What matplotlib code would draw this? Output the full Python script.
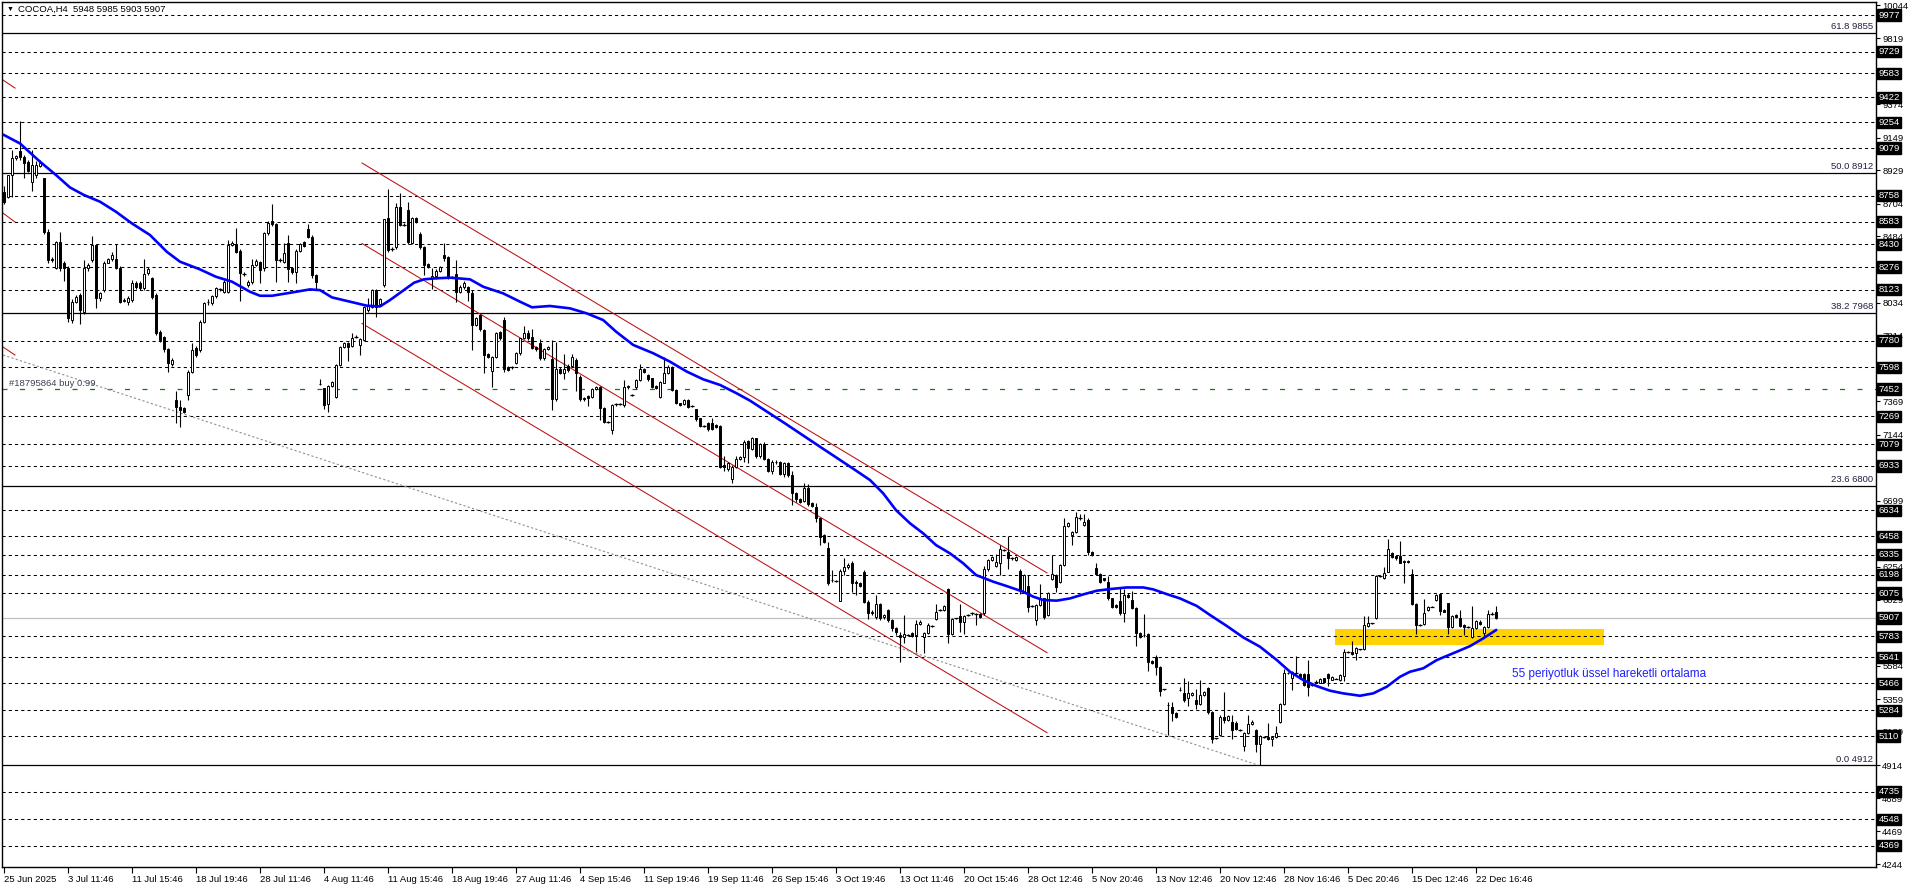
import numpy as np
import matplotlib
matplotlib.use("Agg")
import matplotlib.pyplot as plt
from matplotlib.patches import Rectangle

plt.rcParams['font.family'] = ['Liberation Sans', 'DejaVu Sans']

# H4 candles (bar 0 = 25 Jun 2025)
opens = [8784, 8750, 8897, 9009, 9061, 9020, 8982, 8852, 8897, 8958, 8874, 8514, 8330, 8267, 8447, 8300, 8267, 7918, 8042, 8087,
         7975, 8267, 8323, 8424, 8064, 8120, 8305, 8328, 8328, 8267, 8050, 8042, 8053, 8170, 8170, 8132, 8233, 8200, 8087, 7839,
         7801, 7720, 7621, 7378, 7333, 7322, 7412, 7569, 7727, 7715, 7907, 8037, 8035, 8080, 8125, 8109, 8109, 8424, 8431, 8386,
         8228, 8154, 8177, 8289, 8312, 8267, 8503, 8588, 8566, 8323, 8312, 8435, 8267, 8244, 8386, 8447, 8530, 8480, 8222, 7486,
         7457, 7351, 7472, 7400, 7614, 7738, 7760, 7742, 7805, 7751, 7783, 7985, 8008, 8121, 8026, 8155, 8605, 8396, 8413, 8679,
         8560, 8661, 8440, 8605, 8499, 8413, 8294, 8200, 8215, 8251, 8357, 8341, 8207, 8229, 8110, 8143, 8143, 8103, 7885, 7952,
         7851, 7689, 7576, 7671, 7840, 7918, 7599, 7599, 7630, 7693, 7795, 7833, 7801, 7738, 7761, 7660, 7720, 7653, 7383, 7585,
         7563, 7608, 7608, 7648, 7536, 7390, 7405, 7401, 7451, 7464, 7322, 7232, 7176, 7352, 7352, 7345, 7464, 7412, 7464, 7514,
         7586, 7547, 7525, 7473, 7401, 7496, 7563, 7603, 7446, 7356, 7352, 7378, 7338, 7316, 7255, 7203, 7225, 7221, 7210, 7203,
         6940, 6911, 6843, 6929, 6978, 6996, 7104, 7050, 7120, 7000, 7080, 6980, 6900, 6960, 6958, 6880, 6950, 6870, 6748, 6708,
         6699, 6782, 6685, 6658, 6579, 6467, 6377, 6160, 6158, 6024, 6226, 6248, 6280, 6152, 6145, 6219, 6017, 5938, 5915, 6001,
         5911, 5960, 5893, 5837, 5792, 5776, 5792, 5808, 5792, 5866, 5780, 5808, 5853, 5898, 5960, 5960, 6100, 5798, 5904, 5920,
         5882, 5927, 5938, 5933, 5933, 5938, 6235, 6298, 6258, 6276, 6366, 6354, 6309, 6298, 6226, 6084, 6122, 5987, 5893, 5994,
         6039, 5927, 6168, 6197, 6152, 6264, 6528, 6467, 6489, 6579, 6534, 6568, 6354, 6242, 6204, 6174, 6152, 6039, 5994, 6023,
         5938, 6060, 6028, 5972, 5808, 5790, 5798, 5618, 5646, 5578, 5425, 5318, 5308, 5263, 5418, 5402, 5364, 5385, 5353, 5326,
         5387, 5432, 5274, 5094, 5117, 5240, 5218, 5207, 5200, 5150, 5043, 5133, 5191, 5150, 5056, 5105, 5101, 5088, 5101, 5207,
         5326, 5533, 5499, 5537, 5528, 5528, 5528, 5454, 5477, 5470, 5499, 5528, 5490, 5498, 5488, 5515, 5679, 5679, 5668, 5695,
         5695, 5853, 5870, 5904, 6190, 6174, 6219, 6347, 6325, 6325, 6290, 6294, 6203, 6001, 5859, 5866, 5960, 5983, 6028, 6069,
         5960, 6005, 5848, 5927, 5904, 5859, 5844, 5776, 5837, 5882, 5803, 5844, 5933, 5948]
highs = [8820, 8900, 9066, 9030, 9262, 9030, 9000, 9066, 8990, 9000, 8880, 8530, 8345, 8450, 8515, 8320, 8280, 8060, 8090, 8100,
         8323, 8300, 8485, 8430, 8110, 8320, 8340, 8380, 8430, 8280, 8065, 8080, 8188, 8180, 8180, 8328, 8275, 8210, 8100, 7850,
         7810, 7730, 7660, 7440, 7380, 7330, 7580, 7760, 7740, 7920, 8040, 8060, 8090, 8140, 8135, 8190, 8460, 8450, 8537, 8400,
         8240, 8190, 8328, 8330, 8320, 8510, 8590, 8701, 8575, 8335, 8440, 8490, 8270, 8395, 8440, 8455, 8566, 8490, 8230, 7520,
         7460, 7480, 7510, 7620, 7745, 7770, 7770, 7828, 7815, 7795, 8015, 8070, 8130, 8130, 8070, 8600, 8800, 8410, 8710, 8773,
         8570, 8717, 8615, 8612, 8510, 8420, 8300, 8270, 8260, 8285, 8440, 8350, 8215, 8323, 8155, 8180, 8150, 8120, 7940, 7960,
         7860, 7695, 7675, 7840, 7845, 7941, 7605, 7610, 7700, 7800, 7880, 7850, 7855, 7745, 7790, 7730, 7745, 7783, 7770, 7600,
         7690, 7620, 7690, 7660, 7545, 7400, 7410, 7460, 7470, 7470, 7330, 7240, 7350, 7360, 7360, 7514, 7480, 7420, 7520, 7620,
         7595, 7555, 7530, 7480, 7510, 7671, 7615, 7610, 7450, 7360, 7385, 7385, 7345, 7320, 7260, 7210, 7230, 7260, 7215, 7210,
         7000, 6960, 6940, 7000, 7000, 7110, 7110, 7130, 7125, 7090, 7095, 6990, 6970, 6975, 6965, 6960, 6960, 6900, 6760, 6715,
         6815, 6810, 6690, 6680, 6585, 6475, 6420, 6230, 6165, 6240, 6310, 6275, 6290, 6160, 6150, 6230, 6025, 5960, 6060, 6010,
         5935, 5970, 5900, 5845, 5810, 5930, 5800, 5815, 5890, 5890, 5815, 5870, 5860, 6000, 5968, 5995, 6110, 5905, 5910, 6000,
         5930, 5935, 5945, 5940, 5940, 6260, 6305, 6325, 6340, 6400, 6375, 6460, 6318, 6328, 6240, 6205, 6200, 5995, 6000, 6135,
         6045, 6080, 6330, 6205, 6270, 6580, 6555, 6495, 6620, 6610, 6610, 6580, 6360, 6280, 6210, 6180, 6190, 6045, 6000, 6110,
         6100, 6075, 6090, 5980, 5815, 5935, 5805, 5625, 5655, 5585, 5430, 5340, 5340, 5270, 5440, 5500, 5480, 5410, 5430, 5490,
         5415, 5440, 5280, 5100, 5250, 5410, 5255, 5250, 5210, 5160, 5140, 5250, 5215, 5160, 5115, 5112, 5200, 5105, 5175, 5330,
         5560, 5545, 5550, 5650, 5535, 5535, 5620, 5460, 5485, 5500, 5505, 5535, 5515, 5505, 5530, 5700, 5685, 5750, 5710, 5700,
         5920, 5920, 5875, 6195, 6195, 6250, 6440, 6355, 6330, 6425, 6295, 6300, 6235, 6005, 5865, 6035, 5985, 5990, 6070, 6075,
         5965, 6010, 5925, 5932, 5960, 5865, 5850, 5990, 5895, 5890, 5850, 5960, 5945, 5985]
lows = [8700, 8745, 8750, 9000, 9000, 8880, 8920, 8790, 8880, 8950, 8500, 8300, 8310, 8260, 8250, 8180, 7907, 7900, 8030, 7891,
        7960, 8250, 8310, 8000, 8050, 8110, 8300, 8320, 8260, 8030, 8040, 8020, 8040, 8130, 8120, 8120, 8225, 8060, 7820, 7770,
        7700, 7570, 7610, 7225, 7193, 7290, 7380, 7560, 7670, 7700, 7900, 8020, 8020, 8070, 8115, 8100, 8100, 8415, 8370, 8050,
        8215, 8140, 8160, 8280, 8170, 8250, 8490, 8550, 8175, 8310, 8300, 8175, 8230, 8170, 8380, 8410, 8470, 8200, 8120, 7480,
        7320, 7300, 7465, 7395, 7605, 7730, 7640, 7735, 7795, 7682, 7775, 7970, 8000, 7941, 8015, 8140, 8380, 8385, 8400, 8550,
        8550, 8430, 8430, 8575, 8400, 8222, 8270, 8130, 8195, 8245, 8320, 8195, 8200, 8040, 8100, 8130, 8050, 7716, 7880, 7845,
        7558, 7660, 7464, 7660, 7785, 7570, 7575, 7590, 7620, 7685, 7790, 7785, 7720, 7710, 7650, 7650, 7715, 7311, 7375, 7555,
        7520, 7570, 7600, 7440, 7375, 7370, 7340, 7390, 7445, 7244, 7220, 7225, 7149, 7340, 7345, 7330, 7455, 7405, 7455, 7505,
        7560, 7510, 7460, 7450, 7390, 7490, 7555, 7440, 7350, 7335, 7345, 7325, 7330, 7240, 7195, 7195, 7170, 7175, 7190, 6920,
        6900, 6900, 6816, 6920, 6975, 6960, 6950, 7040, 6990, 6985, 6970, 6890, 6880, 6945, 6870, 6860, 6860, 6670, 6690, 6685,
        6690, 6665, 6655, 6555, 6400, 6415, 6130, 6150, 6150, 6020, 6200, 6240, 6080, 6060, 6115, 6010, 5900, 5930, 5900, 5895,
        5900, 5880, 5820, 5790, 5612, 5740, 5785, 5780, 5680, 5860, 5670, 5800, 5845, 5890, 5952, 5955, 5740, 5790, 5898, 5810,
        5800, 5920, 5930, 5860, 5910, 5930, 6225, 6290, 6250, 6200, 6360, 6240, 6300, 6290, 6070, 6075, 5950, 5980, 5860, 5985,
        5900, 5920, 6160, 6080, 6145, 6255, 6520, 6400, 6480, 6570, 6525, 6330, 6325, 6195, 6140, 6155, 6030, 5975, 5975, 5930,
        5880, 6040, 5965, 5720, 5770, 5780, 5550, 5595, 5525, 5380, 5418, 5120, 5210, 5235, 5416, 5340, 5310, 5380, 5290, 5320,
        5380, 5260, 5060, 5088, 5110, 5200, 5210, 5090, 5150, 5145, 5010, 5125, 5185, 5000, 4914, 5098, 5085, 5040, 5095, 5200,
        5320, 5528, 5420, 5530, 5495, 5450, 5380, 5448, 5470, 5465, 5470, 5450, 5485, 5492, 5480, 5480, 5672, 5660, 5620, 5690,
        5690, 5845, 5865, 5900, 6185, 6170, 6215, 6310, 6300, 6275, 6140, 6280, 5995, 5800, 5852, 5860, 5955, 5978, 6020, 5930,
        5945, 5800, 5840, 5905, 5845, 5790, 5838, 5770, 5830, 5860, 5780, 5838, 5925, 5903]
closes = [8717, 8895, 9009, 9025, 9020, 8975, 8926, 8964, 8964, 8980, 8514, 8323, 8323, 8447, 8267, 8267, 7929, 8042, 8075, 7985,
          8267, 8289, 8424, 8064, 8098, 8305, 8328, 8357, 8267, 8042, 8053, 8064, 8170, 8143, 8132, 8228, 8260, 8075, 7832, 7783,
          7720, 7625, 7648, 7333, 7310, 7300, 7569, 7715, 7682, 7907, 8030, 8042, 8080, 8132, 8125, 8177, 8424, 8440, 8379, 8233,
          8228, 8177, 8289, 8316, 8255, 8503, 8575, 8566, 8323, 8323, 8373, 8260, 8244, 8386, 8431, 8418, 8480, 8222, 8177, 7484,
          7344, 7472, 7502, 7614, 7738, 7760, 7733, 7794, 7805, 7787, 8008, 8010, 8120, 8008, 8058, 8598, 8391, 8396, 8679, 8560,
          8560, 8447, 8605, 8582, 8413, 8290, 8278, 8215, 8251, 8274, 8335, 8207, 8207, 8110, 8143, 8171, 8110, 7885, 7930, 7856,
          7682, 7671, 7666, 7833, 7795, 7585, 7581, 7599, 7693, 7795, 7833, 7795, 7727, 7720, 7660, 7720, 7734, 7383, 7585, 7563,
          7585, 7581, 7666, 7559, 7383, 7383, 7390, 7451, 7463, 7322, 7232, 7232, 7345, 7352, 7352, 7464, 7473, 7412, 7514, 7586,
          7570, 7518, 7468, 7457, 7502, 7563, 7603, 7446, 7356, 7345, 7378, 7334, 7338, 7248, 7203, 7203, 7180, 7180, 7198, 6929,
          6929, 6951, 6929, 6978, 6991, 7097, 7052, 7120, 7000, 7080, 6980, 6900, 6960, 6958, 6880, 6950, 6870, 6748, 6708, 6692,
          6782, 6676, 6662, 6579, 6456, 6422, 6141, 6166, 6158, 6226, 6248, 6264, 6141, 6141, 6122, 6017, 5938, 5950, 6001, 5904,
          5926, 5893, 5837, 5814, 5780, 5799, 5792, 5785, 5866, 5882, 5808, 5859, 5853, 5949, 5960, 5987, 5798, 5897, 5904, 5882,
          5920, 5927, 5938, 5933, 5915, 6235, 6298, 6316, 6287, 6370, 6366, 6309, 6309, 6320, 6096, 6197, 5978, 5987, 5994, 6039,
          5915, 6073, 6204, 6118, 6264, 6528, 6546, 6489, 6586, 6579, 6557, 6354, 6332, 6204, 6152, 6163, 6039, 5983, 5983, 5938,
          6062, 6050, 5972, 5808, 5780, 5795, 5612, 5600, 5578, 5416, 5425, 5322, 5263, 5240, 5420, 5353, 5398, 5402, 5326, 5387,
          5409, 5274, 5088, 5094, 5240, 5218, 5245, 5150, 5155, 5150, 5133, 5191, 5207, 5056, 5110, 5105, 5088, 5101, 5133, 5326,
          5533, 5537, 5544, 5537, 5499, 5454, 5443, 5454, 5477, 5493, 5477, 5499, 5510, 5498, 5522, 5679, 5679, 5663, 5701, 5695,
          5859, 5870, 5870, 6190, 6190, 6213, 6370, 6320, 6309, 6280, 6287, 6282, 6001, 5859, 5859, 5938, 5978, 5983, 6062, 5956,
          5950, 5844, 5920, 5911, 5852, 5844, 5844, 5837, 5888, 5866, 5844, 5933, 5933, 5907]

# 55 period EMA as drawn on the chart (bar index, price)
ema_x = [0, 4, 9, 13, 16.5, 20, 24, 28, 32, 36.5, 40.7, 44, 49, 53, 57, 61.5, 64, 67, 71.5, 76.5,
         79, 82, 86.5, 90.7, 94, 96.5, 100, 102.5, 105, 108, 111.5, 116.5, 119.8, 124.8, 129, 132, 136.5, 141.5, 145.7, 149.8,
         153, 157.3, 162.3, 166.5, 170.7, 174.8, 179, 183.2, 186.5, 195, 205, 212, 216.5, 219.8, 223, 226.5, 229.8, 233, 236.5, 239.8,
         243, 247.3, 250.7, 254.8, 257.3, 259.8, 263.2, 266.5, 269.8, 273.2, 276.5, 280.7, 284.8, 287.3, 290.7, 294, 298.2, 301.5,
         305.7, 309.8, 314, 318.2, 321.5, 324.8, 328.2, 331.5, 334.8, 339, 342.3, 345.7, 349, 351.5, 354.8, 358.2, 363.2, 366.5,
         369.8, 373]
ema_y = [9167, 9110, 8987, 8897, 8813, 8762, 8717, 8649, 8570, 8492, 8379, 8312, 8260, 8210, 8177, 8109, 8082, 8082, 8102, 8125,
         8120, 8071, 8042, 8015, 8010, 8053, 8121, 8170, 8193, 8200, 8204, 8193, 8143, 8098, 8042, 8004, 8013, 7997, 7963, 7918,
         7840, 7750, 7694, 7637, 7570, 7518, 7480, 7423, 7374, 7225, 7045, 6920, 6838, 6748, 6635, 6546, 6478, 6399, 6343, 6276,
         6197, 6152, 6122, 6084, 6051, 6028, 6024, 6039, 6066, 6091, 6102, 6113, 6113, 6100, 6068, 6039, 5988, 5927,
         5853, 5776, 5713, 5623, 5544, 5488, 5447, 5416, 5398, 5382, 5398, 5443, 5510, 5544, 5567, 5623, 5679, 5717,
         5769, 5825]

time_labels = ["25 Jun 2025", "3 Jul 11:46", "11 Jul 15:46", "18 Jul 19:46", "28 Jul 11:46", "4 Aug 11:46",
               "11 Aug 15:46", "18 Aug 19:46", "27 Aug 11:46", "4 Sep 15:46", "11 Sep 19:46", "19 Sep 11:46",
               "26 Sep 15:46", "3 Oct 19:46", "13 Oct 11:46", "20 Oct 15:46", "28 Oct 12:46", "5 Nov 20:46",
               "13 Nov 12:46", "20 Nov 12:46", "28 Nov 16:46", "5 Dec 20:46", "15 Dec 12:46", "22 Dec 16:46"]
label_step = 16

grid_levels = [9977, 9729, 9583, 9422, 9254, 9079, 8758, 8583, 8430, 8276, 8123, 7780, 7598, 7269, 7079, 6933,
               6634, 6458, 6335, 6198, 6075, 5783, 5641, 5466, 5284, 5110, 4735, 4548, 4369]
fib_levels = [9855, 8912, 7968, 6800, 4912]
fib_names = ["61.8", "50.0", "38.2", "23.6", "0.0"]
axis_ticks = [10044, 9819, 9374, 9149, 8929, 8704, 8484, 8034, 7814, 7369, 7144, 6699,
              6254, 6029, 5584, 5359, 5139, 4914, 4689, 4469, 4244]
bid_price = 5907
order_price = 7452
order_label = "#18795864 buy 0.99"

# trend lines (bar index, price)
channel_x = [89.5, 260.75]
channel_upper = [8978, 6211]
channel_mid = [8435, 5673]
channel_lower = [7895, 5133]
old_x = [-0.25, 2.75]
old_lines = [[9538, 9484], [8640, 8580], [7736, 7682]]
support_x = [-0.25, 313.5]
support_y = [7682, 4914]
zone_x = [332.75, 400]
zone_y = [5725, 5833]

ema_text = "55 periyotluk üssel hareketli ortalama"
header = "COCOA,H4  5948 5985 5903 5907"

# ---------------------------------------------------------------
W, H = 1916, 888
fig = plt.figure(figsize=(W / 100, H / 100), dpi=100)
ax = fig.add_axes([2 / W, 21 / H, 1874 / W, 865 / H])
ax.set_xlim(-0.5, 468)
ax.set_ylim(4226, 10065)

o = np.array(opens, float)
h = np.array(highs, float)
l = np.array(lows, float)
c = np.array(closes, float)
x = np.arange(len(c))

# horizontal levels
for lvl in grid_levels:
    ax.axhline(lvl, color='black', lw=0.75, ls=(0, (3, 3)), zorder=1)
for lvl, name in zip(fib_levels, fib_names):
    ax.axhline(lvl, color='black', lw=0.9, zorder=1)
    ax.text(0.9985, lvl + 12, f"{name} {lvl}", transform=ax.get_yaxis_transform(),
            ha='right', va='bottom', fontsize=6.8, color='#202040')
ax.axhline(bid_price, color='#c0c0c0', lw=0.9, zorder=1)
ax.axhline(order_price, color='#008800', lw=0.9, ls=(0, (4, 10)), zorder=1)
ax.text(1.3, order_price + 10, order_label, ha='left', va='bottom', fontsize=6.8, color='#404050')

# support zone
ax.add_patch(Rectangle((zone_x[0], zone_y[0]), zone_x[1] - zone_x[0], zone_y[1] - zone_y[0],
                       facecolor='#ffd200', edgecolor='none', zorder=0.5))

# trend lines
red = '#c01010'
for ys in (channel_upper, channel_mid, channel_lower):
    ax.plot(channel_x, ys, color=red, lw=0.75, zorder=2)
for ys in old_lines:
    ax.plot(old_x, ys, color=red, lw=0.75, zorder=2)
ax.plot(support_x, support_y, color='#909090', lw=0.8, ls=(0, (2, 2)), zorder=2)

# candles
up = c > o
ax.vlines(x, l, h, color='black', lw=0.8, zorder=3)
ax.bar(x, np.abs(c - o), bottom=np.minimum(o, c), width=0.72,
       color=np.where(up, 'white', 'black'), edgecolor='black', linewidth=0.7, zorder=4)
flat = c == o
ax.hlines(c[flat], x[flat] - 0.4, x[flat] + 0.4, color='black', lw=0.9, zorder=4)

# 55 EMA
ax.plot(ema_x, ema_y, color='#0000ff', lw=1.9, zorder=5, solid_joinstyle='round')
ax.text(377, 5530, ema_text, color='#2020ff', fontsize=8.5, va='center', ha='left')

# axes / ticks
for s in ax.spines.values():
    s.set_color('black')
    s.set_linewidth(1)
ax.yaxis.tick_right()
ax.set_yticks(axis_ticks)
ax.set_yticklabels([str(t) for t in axis_ticks])
ax.tick_params(axis='y', length=3, width=0.8, pad=1.5, labelsize=6.8, direction='out')
ax.set_xticks(np.arange(len(time_labels)) * label_step)
ax.set_xticklabels(time_labels, ha='left')
ax.tick_params(axis='x', length=4, width=0.8, pad=2, labelsize=6.8, direction='out')

for lvl in grid_levels + [order_price, bid_price]:
    ax.text(1.0013, lvl, str(lvl), transform=ax.get_yaxis_transform(), ha='left', va='center',
            fontsize=6.8, color='white', clip_on=False, zorder=10,
            bbox=dict(boxstyle='square,pad=0.12', fc='black', ec='black'))

fig.text(7 / W, 1 - 9 / H, "\u25bc", fontsize=5, va='center', ha='left', color='black')
fig.text(18 / W, 1 - 9 / H, header, fontsize=6.8, va='center', ha='left', color='black')

fig.savefig("out.png", dpi=100)
